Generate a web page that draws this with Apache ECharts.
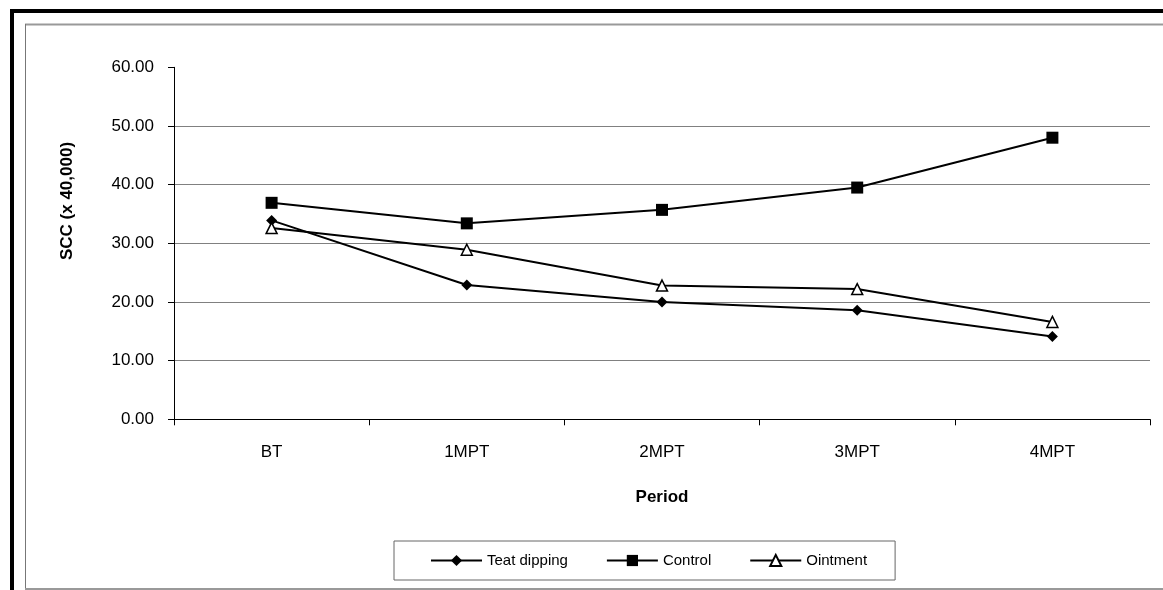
<!DOCTYPE html>
<html>
<head>
<meta charset="utf-8">
<script src="https://cdn.jsdelivr.net/npm/echarts@6/dist/echarts.min.js"></script>
<style>
html,body{margin:0;padding:0;background:#fff;}
#chart{width:1163px;height:590px;}
</style>
</head>
<body>
<div id="chart"></div>
<script>
const categories = ['BT', '1MPT', '2MPT', '3MPT', '4MPT'];
const teatDipping = [33.9, 22.9, 20.0, 18.6, 14.1];
const control = [36.9, 33.4, 35.7, 39.5, 48.0];
const ointment = [32.6, 28.9, 22.8, 22.2, 16.6];
const yTicks = { min: 0, max: 60, interval: 10 };

const FONT = '"Liberation Sans", Arial, sans-serif';
const chart = echarts.init(document.getElementById('chart'), null, { renderer: 'canvas' });

function lineSeries(name, data, symbol, size, fill) {
  return {
    name: name,
    type: 'line',
    data: data,
    symbol: symbol,
    symbolSize: size,
    showAllSymbol: true,
    lineStyle: { color: '#000', width: 2 },
    itemStyle: { color: fill, borderColor: '#000', borderWidth: fill === '#fff' ? 1.5 : 0 },
    emphasis: { disabled: true },
    animation: false,
    z: 3
  };
}

chart.setOption({
  animation: false,
  backgroundColor: '#fff',
  textStyle: { fontFamily: FONT },
  grid: { left: 174, right: 13, top: 67.3, bottom: 170.7, containLabel: false },
  xAxis: {
    type: 'category',
    data: categories,
    boundaryGap: true,
    name: 'Period',
    nameLocation: 'middle',
    nameGap: 70,
    nameTextStyle: { fontFamily: FONT, fontSize: 17, fontWeight: 'bold', color: '#000' },
    axisLine: { lineStyle: { color: '#000', width: 1 } },
    axisTick: { show: true, length: 6, lineStyle: { color: '#000' }, alignWithLabel: false },
    axisLabel: { fontFamily: FONT, fontSize: 17, color: '#000', margin: 25 },
    splitLine: { show: false }
  },
  yAxis: {
    type: 'value',
    min: yTicks.min,
    max: yTicks.max,
    interval: yTicks.interval,
    axisLine: { show: true, lineStyle: { color: '#000', width: 1 } },
    axisTick: { show: true, length: 6, lineStyle: { color: '#000' } },
    axisLabel: { fontFamily: FONT, fontSize: 17, color: '#000', margin: 20, formatter: v => v.toFixed(2) },
    splitLine: {
      show: true,
      lineStyle: {
        color: ['#000', '#808080', '#808080', '#808080', '#808080', '#808080', 'rgba(0,0,0,0)'],
        width: 1
      }
    }
  },
  legend: {
    left: 394,
    top: 541,
    padding: [12, 28, 12, 36],
    borderColor: '#666',
    borderWidth: 1,
    itemWidth: 51,
    itemHeight: 14,
    itemGap: 38,
    textStyle: { fontFamily: FONT, fontSize: 15, color: '#000' },
    data: ['Teat dipping', 'Control', 'Ointment']
  },
  graphic: [
    { type: 'rect', shape: { x: 10, y: 9, width: 1153, height: 4 }, style: { fill: '#000' }, silent: true },
    { type: 'rect', shape: { x: 10, y: 9, width: 4, height: 581 }, style: { fill: '#000' }, silent: true },
    { type: 'line', shape: { x1: 25, y1: 24.5, x2: 1163, y2: 24.5 }, style: { stroke: '#999', lineWidth: 2 }, silent: true },
    { type: 'line', shape: { x1: 25.5, y1: 24, x2: 25.5, y2: 590 }, style: { stroke: '#777', lineWidth: 1 }, silent: true },
    { type: 'line', shape: { x1: 25, y1: 589, x2: 1163, y2: 589 }, style: { stroke: '#999', lineWidth: 2 }, silent: true },
    {
      type: 'text',
      x: 67, y: 201,
      rotation: Math.PI / 2,
      style: { text: 'SCC (x 40,000)', fill: '#000', font: 'bold 17px ' + FONT, textAlign: 'center', textVerticalAlign: 'middle' },
      silent: true
    }
  ],
  series: [
    lineSeries('Teat dipping', teatDipping, 'diamond', 11, '#000'),
    lineSeries('Control', control, 'rect', 12, '#000'),
    lineSeries('Ointment', ointment, 'triangle', 11, '#fff')
  ]
});
</script>
</body>
</html>
